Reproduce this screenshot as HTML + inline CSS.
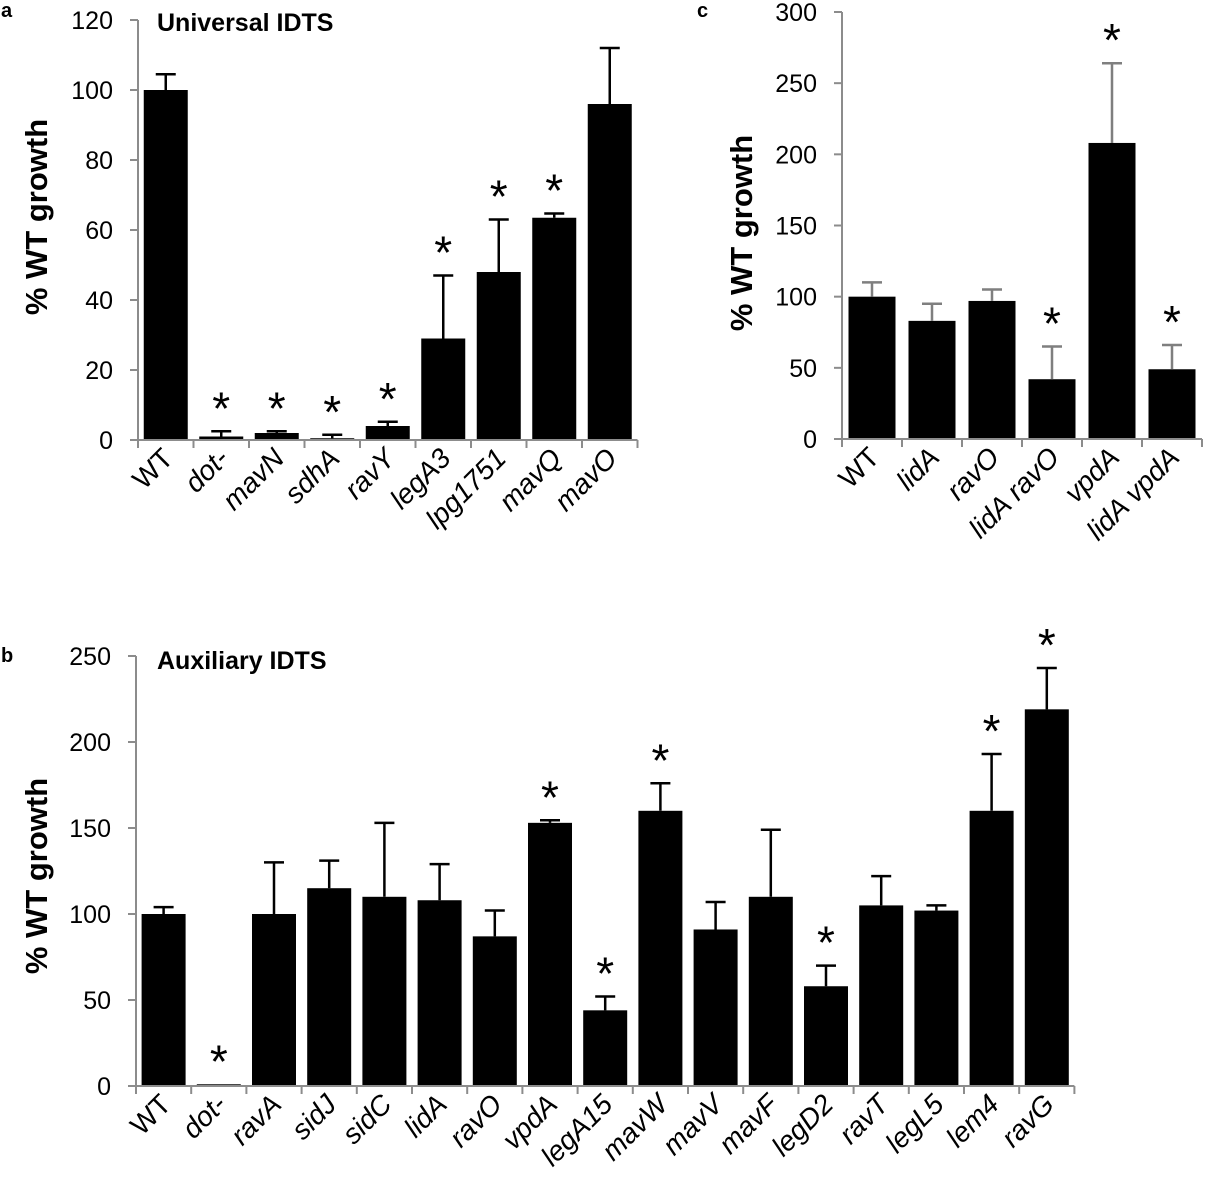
<!DOCTYPE html>
<html><head><meta charset="utf-8"><style>
body{margin:0;background:#fff;}
svg{display:block;font-family:"Liberation Sans",Arial,sans-serif;}
</style></head><body>
<svg id="fig" width="1205" height="1187" viewBox="0 0 1205 1187" xmlns="http://www.w3.org/2000/svg">
<text x="1" y="17" font-size="20" font-weight="bold">a</text>
<text x="697" y="17" font-size="20" font-weight="bold">c</text>
<text x="1" y="662" font-size="20" font-weight="bold">b</text>
<text x="157" y="31" font-size="25" font-weight="bold">Universal IDTS</text>
<text x="157" y="669" font-size="25" font-weight="bold">Auxiliary IDTS</text>
</svg>
<script>
const aCats=["WT","dot-","mavN","sdhA","ravY","legA3","lpg1751","mavQ","mavO"];
const aVals=[100,1,2,0.5,4,29,48,63.5,96];
const aErrs=[4.5,1.5,0.5,1,1.2,18,15,1.2,16];
const aSig=[0,1,1,1,1,1,1,1,0];
const aTicks=[0,20,40,60,80,100,120];

const cCats=["WT","lidA","ravO","lidA ravO","vpdA","lidA vpdA"];
const cVals=[100,83,97,42,208,49];
const cErrs=[10,12,8,23,56,17];
const cSig=[0,0,0,1,1,1];
const cTicks=[0,50,100,150,200,250,300];

const bCats=["WT","dot-","ravA","sidJ","sidC","lidA","ravO","vpdA","legA15","mavW","mavV","mavF","legD2","ravT","legL5","lem4","ravG"];
const bVals=[100,1,100,115,110,108,87,153,44,160,91,110,58,105,102,160,219];
const bErrs=[4,0,30,16,43,21,15,1.5,8,16,16,39,12,17,3,33,24];
const bSig=[0,1,0,0,0,0,0,1,1,1,0,0,1,0,0,1,1];
const bTicks=[0,50,100,150,200,250];

const NS="http://www.w3.org/2000/svg";
const svg=document.getElementById('fig');
function mk(tag,attrs,parent){const e=document.createElementNS(NS,tag);for(const k in attrs)e.setAttribute(k,attrs[k]);(parent||svg).appendChild(e);return e;}

function panel(id,cats,vals,errs,sig,ticks,ax,cw,bw,y0,yTop,errColor,titleX,titleY){
  const g=mk('g',{});
  
  
  const maxV=ticks[ticks.length-1];
  const Y=v=>y0-(v/maxV)*(y0-yTop);
  const X=i=>ax+cw*(i+0.5);
  const axisEnd=ax+cw*cats.length;
  const ya=mk('line',{x1:ax,y1:Y(maxV),x2:ax,y2:y0,stroke:'#8c8c8c','stroke-width':2},g);
  
  
  ticks.forEach(t=>{
    mk('line',{x1:ax-8,y1:Y(t),x2:ax,y2:Y(t),stroke:'#8c8c8c','stroke-width':2},g);
    const tl=mk('text',{x:ax-25,y:Y(t)+9,'font-size':25,'text-anchor':'end',fill:'#000'},g);
    tl.textContent=t;
    
    
  });
  cats.forEach((c,i)=>{
    const x=X(i),v=vals[i],e=errs[i];
    const r=mk('rect',{x:x-bw/2,y:Y(v),width:bw,height:y0-Y(v),fill:'#000'},g);
    
    
    if(e>0){
      const eb=mk('path',{d:`M${x} ${Y(v)} V${Y(v+e)} M${x-10} ${Y(v+e)} H${x+10}`,stroke:errColor,'stroke-width':2.5,fill:'none'},g);
      
      
    }
    if(sig[i]){
      const s=mk('text',{x:x,y:Y(v+e)-7,'font-size':46,'text-anchor':'middle',fill:'#000'},g);
      s.textContent='*';
      
      
    }
    const lx=x+9,ly=y0+20;
    const lab=mk('text',{x:lx,y:ly,'font-size':28,'text-anchor':'end','font-style':c==='WT'?'normal':'italic',transform:`rotate(-45 ${lx} ${ly})`},g);
    lab.textContent=c;
    
    
  });
  const xa=mk('line',{x1:ax,y1:y0,x2:axisEnd,y2:y0,stroke:'#8c8c8c','stroke-width':2},g);
  
  
  for(let i=0;i<=cats.length;i++){
    mk('line',{x1:ax+cw*i,y1:y0,x2:ax+cw*i,y2:y0+8,stroke:'#8c8c8c','stroke-width':2},g);
  }
  const t=mk('text',{x:titleX,y:titleY,'font-size':31,'font-weight':'bold','text-anchor':'middle',transform:`rotate(-90 ${titleX} ${titleY})`},g);
  t.textContent='% WT growth';
  
  
}
panel('panel-a',aCats,aVals,aErrs,aSig,aTicks,138,55.5,44,440,20,'#000',47,217);
panel('panel-c',cCats,cVals,cErrs,cSig,cTicks,842,60,47,439,12,'#7f7f7f',752,233);
panel('panel-b',bCats,bVals,bErrs,bSig,bTicks,136,55.2,44,1086,656,'#000',47,876);
</script>
</body></html>
